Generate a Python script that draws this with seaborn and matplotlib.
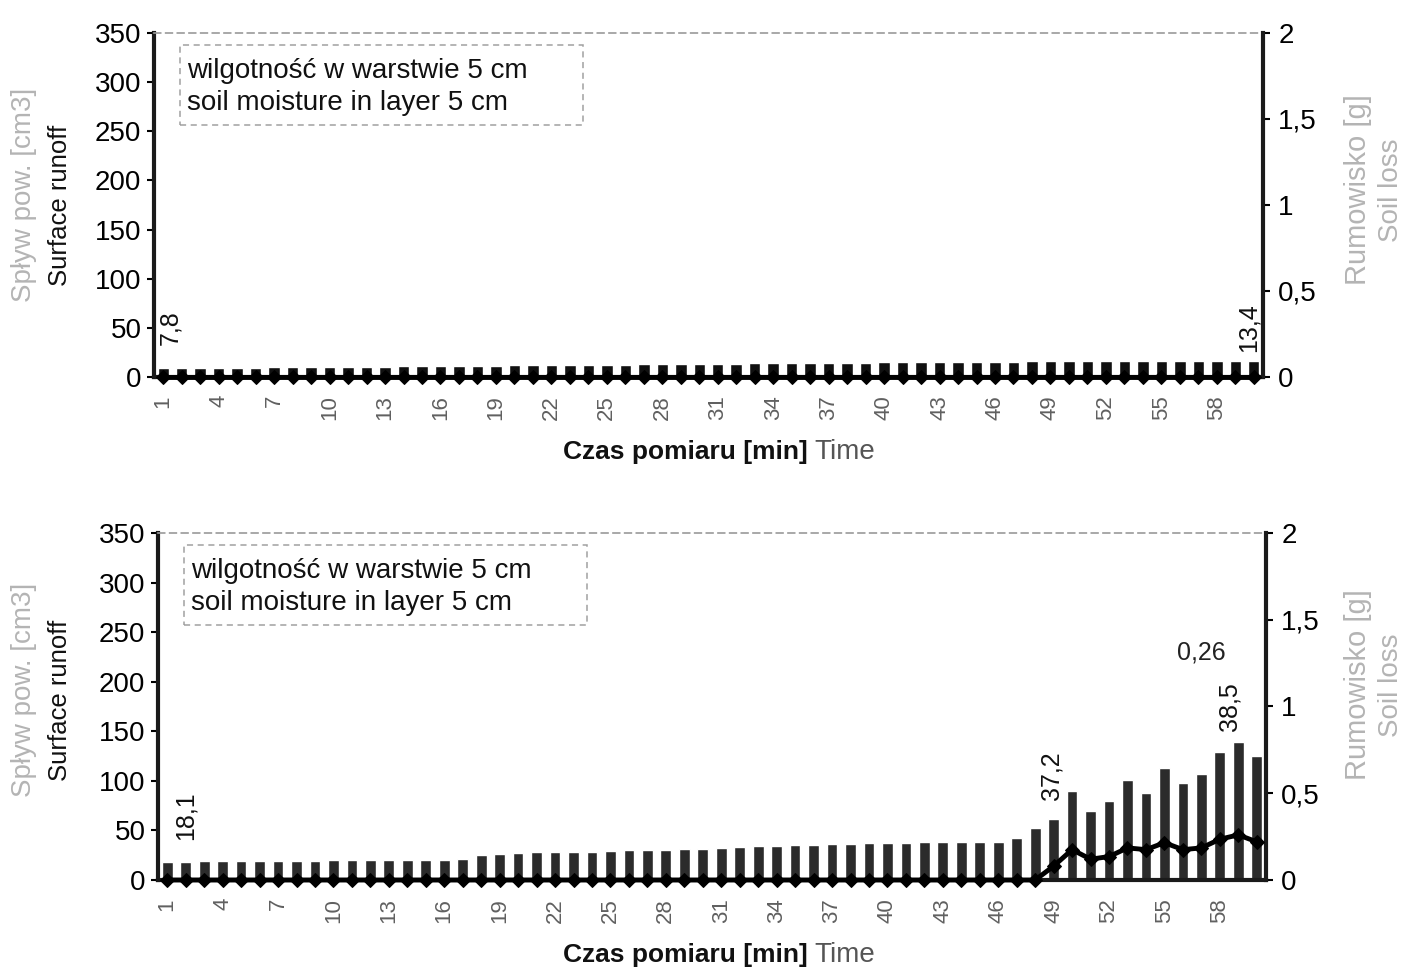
import matplotlib
matplotlib.use("Agg")
import matplotlib.pyplot as plt
from matplotlib.patches import Rectangle
import seaborn as sns
import pandas as pd
import numpy as np

# ---------------- data ----------------
minutes = list(range(1, 61))

runoff_top = [9, 9, 9, 9, 9, 9, 10, 10, 10, 10,
              10, 10, 10, 11, 11, 11, 11, 11, 11, 12,
              12, 12, 12, 12, 12, 12, 13, 13, 13, 13,
              13, 13, 14, 14, 14, 14, 14, 14, 14, 15,
              15, 15, 15, 15, 15, 15, 15, 16, 16, 16,
              16, 16, 16, 16, 16, 16, 16, 16, 16, 16]
soil_top = [0.0, 0.0, 0.0, 0.0, 0.0, 0.0, 0.0, 0.0, 0.0, 0.0,
            0.0, 0.0, 0.0, 0.0, 0.0, 0.0, 0.0, 0.0, 0.0, 0.0,
            0.0, 0.0, 0.0, 0.0, 0.0, 0.0, 0.0, 0.0, 0.0, 0.0,
            0.0, 0.0, 0.0, 0.0, 0.0, 0.0, 0.0, 0.0, 0.0, 0.0,
            0.0, 0.0, 0.0, 0.0, 0.0, 0.0, 0.0, 0.0, 0.0, 0.0,
            0.0, 0.0, 0.0, 0.0, 0.0, 0.0, 0.0, 0.0, 0.0, 0.0]

runoff_bottom = [18, 18, 19, 19, 19, 19, 19, 19, 19, 20,
                 20, 20, 20, 20, 20, 20, 21, 25, 26, 27,
                 28, 28, 28, 28, 29, 30, 30, 30, 31, 31,
                 32, 33, 34, 34, 35, 35, 36, 36, 37, 37,
                 37, 38, 38, 38, 38, 38, 42, 52, 62, 90,
                 70, 80, 101, 88, 113, 98, 107, 129, 139, 125]
soil_bottom = [0.0, 0.0, 0.0, 0.0, 0.0, 0.0, 0.0, 0.0, 0.0, 0.0,
               0.0, 0.0, 0.0, 0.0, 0.0, 0.0, 0.0, 0.0, 0.0, 0.0,
               0.0, 0.0, 0.0, 0.0, 0.0, 0.0, 0.0, 0.0, 0.0, 0.0,
               0.0, 0.0, 0.0, 0.0, 0.0, 0.0, 0.0, 0.0, 0.0, 0.0,
               0.0, 0.0, 0.0, 0.0, 0.0, 0.0, 0.0, 0.0, 0.08, 0.175,
               0.12, 0.135, 0.185, 0.175, 0.215, 0.175, 0.185, 0.235, 0.26, 0.22]

# annotations (text, x position in minutes, y position in runoff units)
labels_top = [("7,8", 1.4, 50), ("13,4", 59.7, 50)]
labels_bottom = [("18,1", 2.0, 65), ("37,2", 48.9, 105), ("38,5", 58.5, 175)]
soil_label_bottom = ("0,26", 57.0, 229)

left_ticks = [0, 50, 100, 150, 200, 250, 300, 350]
right_ticks = [0, 0.5, 1, 1.5, 2]
right_ticklabels = ["0", "0,5", "1", "1,5", "2"]

box_text = "wilgotność w warstwie 5 cm\nsoil moisture in layer 5 cm"
ylab_pl = "Spływ pow. [cm3]"
ylab_en = "Surface runoff"
y2lab_pl = "Rumowisko [g]"
y2lab_en = "Soil loss"
xlab_pl = "Czas pomiaru [min]"
xlab_en = "Time"

# ---------------- style ----------------
sns.set_theme(style="white")
plt.rcParams["font.family"] = ["Liberation Sans", "DejaVu Sans"]

W, H = 1402, 971
fig = plt.figure(figsize=(W / 100, H / 100), dpi=100)
fig.patch.set_facecolor("white")

LIGHT = "#b4b4b4"


def fx(px):
    return px / W


def fy(py):
    return 1 - py / H


def panel(rect_px, runoff, soil, labels, bar_color, bar_width, soil_label=None):
    l, t, r, b = rect_px
    ax = fig.add_axes([fx(l), fy(b), fx(r) - fx(l), fy(t) - fy(b)])
    df = pd.DataFrame({"minute": minutes, "runoff": runoff, "soil": soil})
    sns.barplot(data=df, x="minute", y="runoff", order=minutes, color=bar_color,
                saturation=1, width=bar_width, ax=ax, zorder=2)
    ax.set_xlim(-0.5, len(minutes) - 0.5)
    ax.set_ylim(0, 350)
    ax.set_yticks(left_ticks)
    ax.set_yticklabels([str(v) for v in left_ticks], fontsize=20, color="black")
    ax.set_xticks(range(len(minutes)))
    ax.set_xticklabels([str(m) if (m - 1) % 3 == 0 else "" for m in minutes],
                       rotation=90, fontsize=16, color="#606060")
    ax.set_xlabel("")
    ax.set_ylabel("")
    ax.tick_params(axis="x", length=8, width=2.5, color="black", pad=5, direction="out")
    ax.tick_params(axis="y", length=5, width=1.5, color="black", pad=4, direction="out")
    for s in ["left", "bottom"]:
        ax.spines[s].set_linewidth(3)
        ax.spines[s].set_color("#1a1a1a")
    ax.spines["top"].set_linestyle((0, (4, 3)))
    ax.spines["top"].set_color("#9a9a9a")
    ax.spines["top"].set_linewidth(1.2)
    ax.spines["right"].set_visible(False)

    ax2 = ax.twinx()
    sns.lineplot(x=df.index, y=df["soil"], ax=ax2, color="black", linewidth=3.5,
                 marker="D", markersize=7, markeredgecolor="black", zorder=3,
                 clip_on=False)
    ax2.set_ylim(0, 2)
    ax2.set_yticks(right_ticks)
    ax2.set_yticklabels(right_ticklabels, fontsize=20, color="black")
    ax2.set_ylabel("")
    ax2.tick_params(axis="y", length=5, width=1.5, color="black", pad=6, direction="out")
    for s in ["left", "top", "bottom"]:
        ax2.spines[s].set_visible(False)
    ax2.spines["right"].set_linewidth(3)
    ax2.spines["right"].set_color("#1a1a1a")

    for txt, xm, yv in labels:
        ax.text(xm - 1, yv, txt, rotation=90, ha="center", va="center",
                fontsize=18, color="#111111", zorder=5)
    if soil_label is not None:
        txt, xm, yv = soil_label
        ax.text(xm - 1, yv, txt, ha="center", va="center", fontsize=18,
                color="#222222", zorder=5)

    # text box
    bx0, by0, bx1, by1 = l + 26, t + 12, l + 429, t + 92
    fig.add_artist(Rectangle((fx(bx0), fy(by1)), fx(bx1) - fx(bx0), fy(by0) - fy(by1),
                             transform=fig.transFigure, fill=True, facecolor="white",
                             edgecolor="#a0a0a0", linestyle=(0, (4, 3)), linewidth=1.1,
                             zorder=4))
    fig.text(fx(bx0 + 7), fy(by0 + 42), box_text, ha="left", va="center",
             fontsize=20, color="#111111", linespacing=1.32, zorder=5)
    return ax, ax2


panels = [
    ((154, 33, 1263, 377), runoff_top, soil_top, labels_top, "#101010", 0.62, None, 205, 452),
    ((158, 533, 1266, 880), runoff_bottom, soil_bottom, labels_bottom, "#2b2b2b", 0.58,
     soil_label_bottom, 700, 955),
]

for rect, ro, so, lab, col, bw, sl, ymid, xlab_y in panels:
    panel(rect, ro, so, lab, col, bw, sl)
    # left axis labels
    fig.text(fx(24), fy(ymid - 10), ylab_pl, rotation=90, ha="center", va="center",
             fontsize=20, color=LIGHT)
    fig.text(fx(60), fy(ymid), ylab_en, rotation=90, ha="center", va="center",
             fontsize=18.5, color="#111111")
    # right axis labels
    fig.text(fx(1358), fy(ymid - 15), y2lab_pl, rotation=90, ha="center", va="center",
             fontsize=21, color=LIGHT)
    fig.text(fx(1391), fy(ymid - 15), y2lab_en, rotation=90, ha="center", va="center",
             fontsize=20, color=LIGHT)
    # x label
    fig.text(fx(808), fy(xlab_y), xlab_pl, ha="right", va="center", fontsize=19,
             fontweight="bold", color="#111111")
    fig.text(fx(814), fy(xlab_y), xlab_en, ha="left", va="center", fontsize=20,
             color="#555555")

fig.savefig("out.png", dpi=100, facecolor="white")
